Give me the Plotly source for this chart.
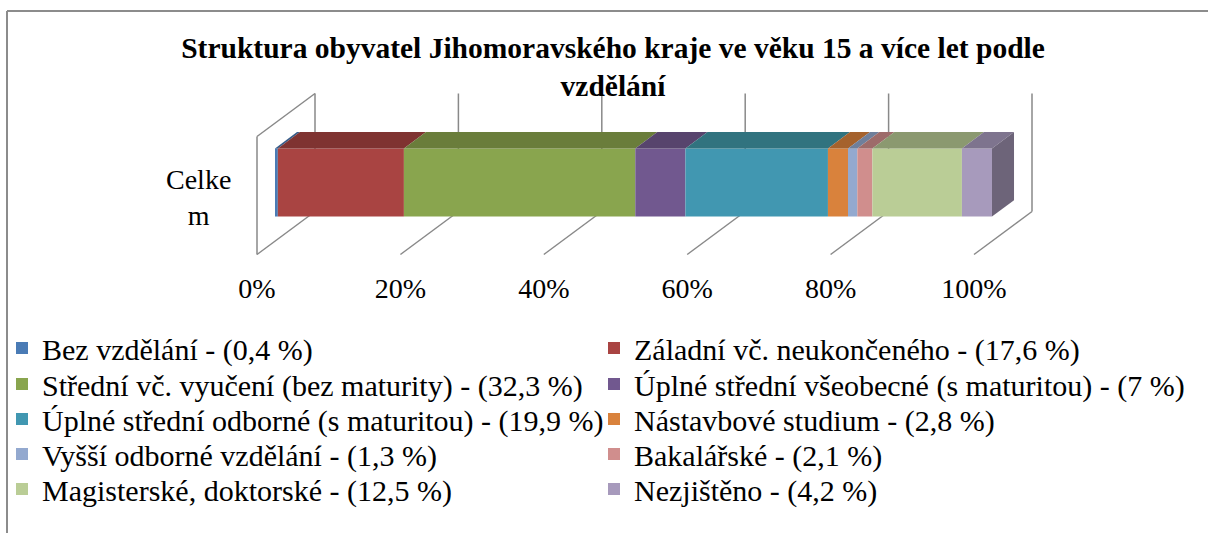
import plotly.graph_objects as go
import numpy as np

# ---------------- data ----------------
categories = ["Celkem"]
labels = [
    "Bez vzdělání",
    "Záladní vč. neukončeného",
    "Střední vč. vyučení (bez maturity)",
    "Úplné střední všeobecné (s maturitou)",
    "Úplné střední odborné (s maturitou)",
    "Nástavbové studium",
    "Vyšší odborné vzdělání",
    "Bakalářské",
    "Magisterské, doktorské",
    "Nezjištěno",
]
values = [0.4, 17.6, 32.3, 7, 19.9, 2.8, 1.3, 2.1, 12.5, 4.2]
tick_values = [0, 20, 40, 60, 80, 100]
tick_labels = ["0%", "20%", "40%", "60%", "80%", "100%"]
title_text = "Struktura obyvatel Jihomoravského kraje ve věku 15 a více let podle<br>vzdělání"

# ---------------- styles ----------------
front_colors = ["#4A7BB5", "#A94442", "#89A54E", "#71588F", "#4197B1",
                "#D9823C", "#93A9CF", "#D08E8D", "#BACD96", "#A79ABC"]
top_colors = ["#375C88", "#7F3331", "#6A7D3B", "#57446D", "#31737F",
              "#A5622D", "#6F7F9B", "#9D6B6A", "#8B9970", "#7E748E"]
side_color = "#6D6479"
grid_color = "#898989"
FONT = "Liberation Serif, Times New Roman, Times, serif"

W, H = 1208, 533
PX_PER_PCT = 7.17      # horizontal pixels per percent
PX_PER_H = 118.0       # pixels per wall height unit
X0_PX = 315.0          # pixel of 0 % on back wall
FLOOR_PX = 211.5       # pixel of back floor edge
DEPTH_DX = -58.0 / PX_PER_PCT   # full-depth offset (percent units)
DEPTH_DY = -43.0 / PX_PER_H     # full-depth offset (height units)
F_FRONT, F_BACK = 0.69, 0.31    # bar depth (fraction toward viewer)
H0, H1 = 0.209, 0.786           # bar bottom/top (wall height units)


def proj(p, h, f):
    return p + f * DEPTH_DX, h + f * DEPTH_DY


vals = np.array(values, dtype=float)
pct = vals / vals.sum() * 100.0
ends = np.cumsum(pct)
starts = ends - pct

fig = go.Figure()

for i, lab in enumerate(labels):
    row = i // 2
    key = "legend" if row == 0 else f"legend{row + 1}"
    txt = f"{values[i]:g}".replace(".", ",")
    _, yc = proj(0, (H0 + H1) / 2, F_FRONT)
    fig.add_trace(go.Bar(
        orientation="h",
        y=[yc], x=[pct[i]], base=[starts[i] + F_FRONT * DEPTH_DX],
        width=[H1 - H0],
        marker=dict(color=front_colors[i], line=dict(width=0)),
        name=f"{lab} - ({txt} %)",
        legend=key,
        hoverinfo="skip",
    ))

# top faces
for i in range(len(labels)):
    pts = [proj(starts[i], H1, F_FRONT), proj(ends[i], H1, F_FRONT),
           proj(ends[i], H1, F_BACK), proj(starts[i], H1, F_BACK),
           proj(starts[i], H1, F_FRONT)]
    fig.add_trace(go.Scatter(
        x=[p[0] for p in pts], y=[p[1] for p in pts],
        mode="lines", fill="toself", fillcolor=top_colors[i],
        line=dict(width=0, color=top_colors[i]),
        showlegend=False, hoverinfo="skip",
    ))

# right side face
e = ends[-1]
pts = [proj(e, H0, F_FRONT), proj(e, H1, F_FRONT), proj(e, H1, F_BACK),
       proj(e, H0, F_BACK), proj(e, H0, F_FRONT)]
fig.add_trace(go.Scatter(
    x=[p[0] for p in pts], y=[p[1] for p in pts],
    mode="lines", fill="toself", fillcolor=side_color,
    line=dict(width=0, color=side_color),
    showlegend=False, hoverinfo="skip",
))

# 3D walls / gridlines
shapes = []
def seg(a, b):
    shapes.append(dict(type="line", xref="x", yref="y", layer="below",
                       x0=a[0], y0=a[1], x1=b[0], y1=b[1],
                       line=dict(color=grid_color, width=1.5)))

for t in tick_values:
    seg(proj(t, 0, 0), proj(t, 1, 0))
    seg(proj(t, 0, 0), proj(t, 0, 1))
seg(proj(0, 1, 0), proj(0, 1, 1))
seg(proj(0, 1, 1), proj(0, 0, 1))

# chart border (top and left)
shapes.append(dict(type="line", xref="paper", yref="paper", x0=7 / W, x1=1, y0=1 - 11 / H, y1=1 - 11 / H,
                   line=dict(color="#8C8C8C", width=2)))
shapes.append(dict(type="line", xref="paper", yref="paper", x0=7 / W, x1=7 / W, y0=0, y1=1 - 11 / H,
                   line=dict(color="#8C8C8C", width=2)))

xr = [-X0_PX / PX_PER_PCT, (W - X0_PX) / PX_PER_PCT]
yr = [(FLOOR_PX - H) / PX_PER_H, FLOOR_PX / PX_PER_H]

layout = dict(
    width=W, height=H,
    margin=dict(l=0, r=0, t=0, b=0),
    paper_bgcolor="white", plot_bgcolor="rgba(0,0,0,0)",
    barmode="overlay",
    showlegend=True,
    shapes=shapes,
    title=dict(text=title_text, x=613 / W, xanchor="center", xref="paper",
               y=1 - 58 / H, yanchor="top", yref="paper",
               font=dict(family=FONT, size=29.5, color="black", weight="bold")),
    xaxis=dict(range=xr, visible=False, fixedrange=True),
    xaxis2=dict(range=[xr[0] - DEPTH_DX, xr[1] - DEPTH_DX], overlaying="x",
                anchor="free", position=1 - 269 / H, side="bottom",
                tickvals=tick_values, ticktext=tick_labels,
                showgrid=False, zeroline=False, showline=False, ticks="",
                tickfont=dict(family=FONT, size=28, color="black"), fixedrange=True),
    yaxis=dict(range=yr, visible=False, fixedrange=True),
    annotations=[dict(text=categories[0][:-1] + "<br>" + categories[0][-1:],
                      x=198 / W, y=1 - 197 / H, xref="paper", yref="paper",
                      xanchor="center", yanchor="middle",
                      showarrow=False, font=dict(family=FONT, size=28, color="black"))],
)

row_y = [348, 384, 419, 454, 489]
for r, yy in enumerate(row_y):
    key = "legend" if r == 0 else f"legend{r + 1}"
    layout[key] = dict(orientation="h", x=2 / W, xanchor="left", y=1 - yy / H, yanchor="middle",
                       entrywidth=547, entrywidthmode="pixels",
                       font=dict(family=FONT, size=30, color="black"),
                       bgcolor="rgba(0,0,0,0)", traceorder="normal", itemclick=False,
                       itemdoubleclick=False)

fig.update_layout(**layout)
# invisible trace to activate xaxis2 ticks
fig.add_trace(go.Scatter(x=[None], y=[None], xaxis="x2", showlegend=False, hoverinfo="skip"))

fig.write_html("out.html", config={"displayModeBar": False},
               post_script="document.body.style.margin='0';document.body.style.padding='0';")
